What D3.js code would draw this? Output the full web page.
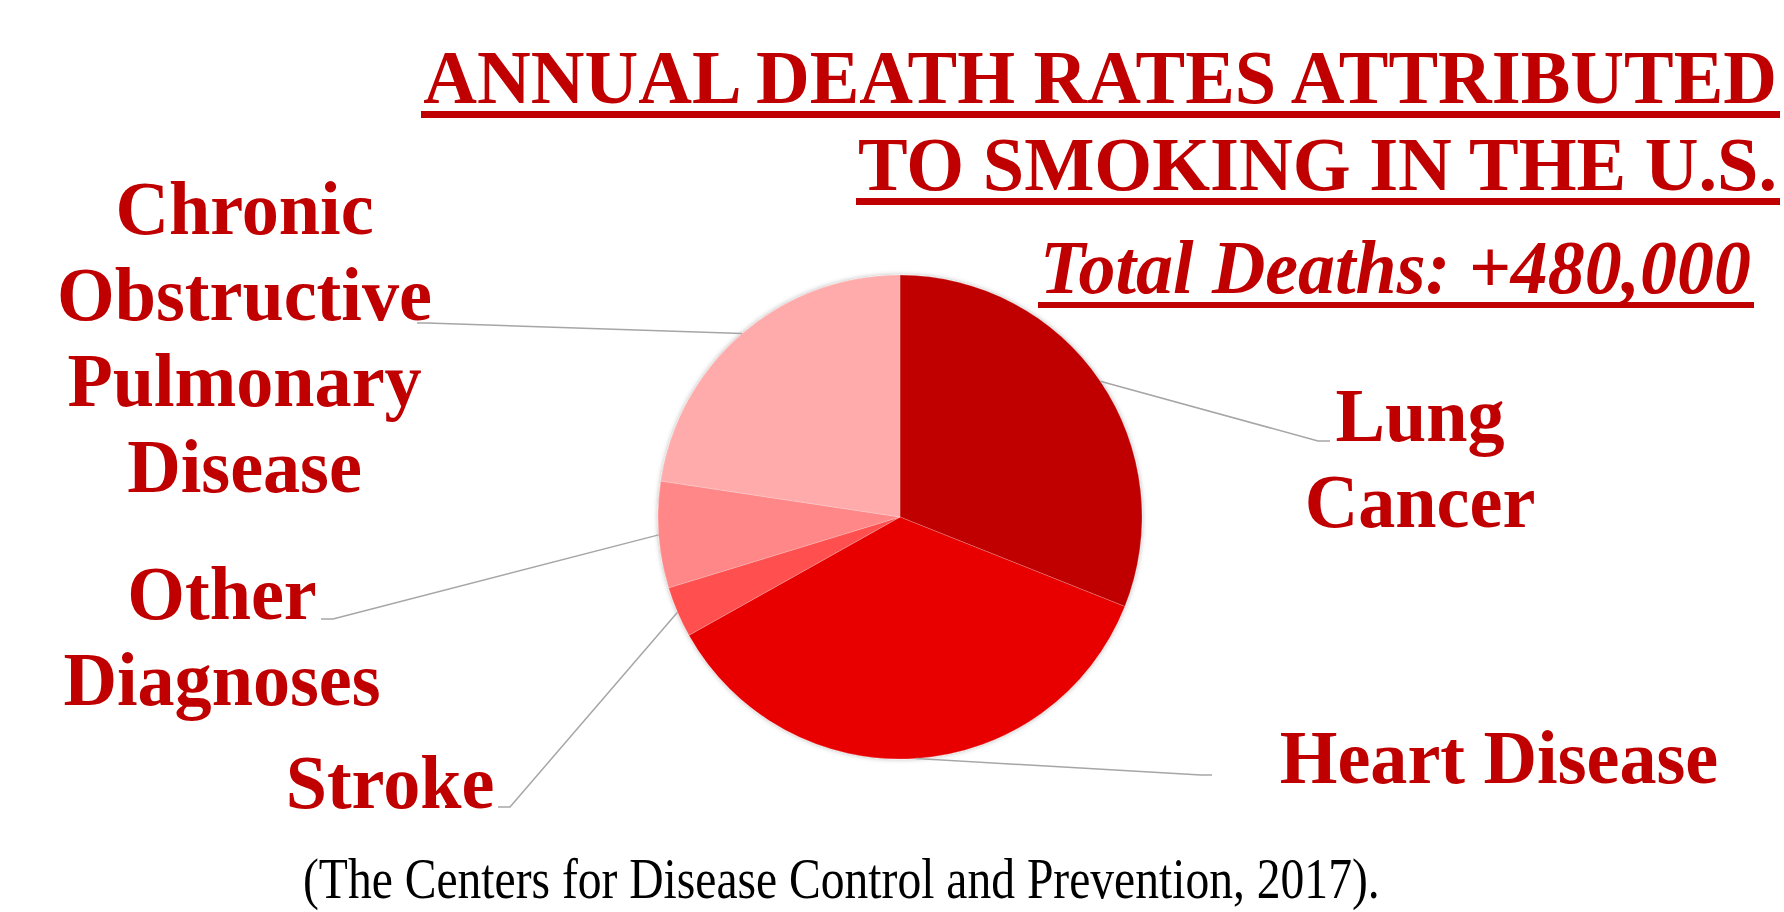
<!DOCTYPE html>
<html>
<head>
<meta charset="utf-8">
<script src="https://cdn.jsdelivr.net/npm/d3@7"></script>
<style>
  html, body { margin: 0; padding: 0; background: #fff; overflow: hidden; }
  svg { display: block; }
</style>
</head>
<body>
<svg id="chart"></svg>
<script>
// data (share of the 480,000 deaths, %)
const categories = ['Lung Cancer', 'Heart Disease', 'Stroke', 'Other Diagnoses', 'Chronic Obstructive Pulmonary Disease'];
const shares = [31.0, 35.8, 3.4, 7.1, 22.6];
const sliceColors = ['#c00000', '#e80000', '#ff5050', '#ff8787', '#ffabab'];
const labelLines = [['Lung', 'Cancer'], ['Heart Disease'], ['Stroke'], ['Other', 'Diagnoses'], ['Chronic', 'Obstructive', 'Pulmonary', 'Disease']];
const titleLines = ['ANNUAL DEATH RATES ATTRIBUTED', 'TO SMOKING IN THE U.S.'];
const subtitle = 'Total Deaths: +480,000';
const source = '(The Centers for Disease Control and Prevention, 2017).';

const width = 1784;
const height = 912;
const red = '#c00000';
const serif = '"Liberation Serif", "Times New Roman", serif';
const SX = 0.963; // text in the slide is slightly squeezed horizontally

const svg = d3.select('#chart').attr('width', width).attr('height', height);

// soft shadow round the pie
const defs = svg.append('defs');
defs.append('filter').attr('id', 'shadow')
  .attr('x', '-10%').attr('y', '-10%').attr('width', '120%').attr('height', '120%')
  .append('feDropShadow')
  .attr('dx', 0).attr('dy', 0).attr('stdDeviation', 2.5)
  .attr('flood-color', '#000').attr('flood-opacity', 0.3);

// text squeezed (or fitted) horizontally by a transform
function addText(x, y, str, size, opts = {}) {
  const t = svg.append('text')
    .attr('text-anchor', opts.anchor || 'middle')
    .style('font-family', serif)
    .style('font-size', size + 'px')
    .style('font-weight', opts.weight || 'bold')
    .style('font-style', opts.style || 'normal')
    .style('fill', opts.fill || red)
    .text(str);
  let sx = SX;
  if (opts.fit) sx = opts.fit / t.node().getComputedTextLength();
  t.attr('transform', `translate(${x},${y}) scale(${sx},1)`);
  return t;
}

// title lines, right aligned, fitted to the widths in the slide, underlined
function underlined(str, right, base, w, size, style, barY, barH) {
  addText(right, base, str, size, { anchor: 'end', style: style, fit: w });
  svg.append('rect')
    .attr('x', right - w - 2).attr('y', barY)
    .attr('width', w + 5).attr('height', barH)
    .attr('fill', red);
}

underlined(titleLines[0], 1777, 103, 1354, 76, 'normal', 111, 7);
underlined(titleLines[1], 1777, 190, 919, 76, 'normal', 198, 7);
underlined(subtitle, 1751, 293, 711, 76, 'italic', 302, 6);

// pie
const cx = 900, cy = 517, R = 242;
const pie = d3.pie().sort(null).value(d => d);
const arcs = pie(shares);
const arc = d3.arc().innerRadius(0).outerRadius(R);

const g = svg.append('g').attr('transform', `translate(${cx},${cy})`);
g.append('g').attr('filter', 'url(#shadow)')
  .selectAll('path')
  .data(arcs)
  .enter()
  .append('path')
  .attr('d', arc)
  .attr('fill', (d, i) => sliceColors[i])
  .attr('stroke', 'rgba(255,255,255,0.35)')
  .attr('stroke-width', 0.6);

// label placement: text centre / first baseline, leader elbow and end
const labelLayout = [
  { x: 1420, y: 441, elbow: [1318, 441], end: [1330, 441] },
  { x: 1499, y: 783, elbow: [1201, 775], end: [1212, 775] },
  { x: 390, y: 808, elbow: [510, 807], end: [498, 807] },
  { x: 222, y: 619, elbow: [333, 619], end: [321, 619] },
  { x: 244.5, y: 234, elbow: [427, 323], end: [417, 323] }
];
const lineGap = 86;

arcs.forEach((a, i) => {
  const mid = (a.startAngle + a.endAngle) / 2;
  const start = [cx + Math.sin(mid) * R, cy - Math.cos(mid) * R];
  const lay = labelLayout[i];
  svg.append('polyline')
    .attr('points', [start, lay.elbow, lay.end].map(p => p.join(',')).join(' '))
    .attr('fill', 'none')
    .attr('stroke', '#a6a6a6')
    .attr('stroke-width', 1.5);

  labelLines[i].forEach((line, j) => {
    addText(lay.x, lay.y + j * lineGap, line, 77);
  });
});

// source line at the foot, kept just inside the bottom edge
addText(303, 898, source, 58, { anchor: 'start', weight: 'normal', fill: '#000', fit: 1077 });
</script>
</body>
</html>
